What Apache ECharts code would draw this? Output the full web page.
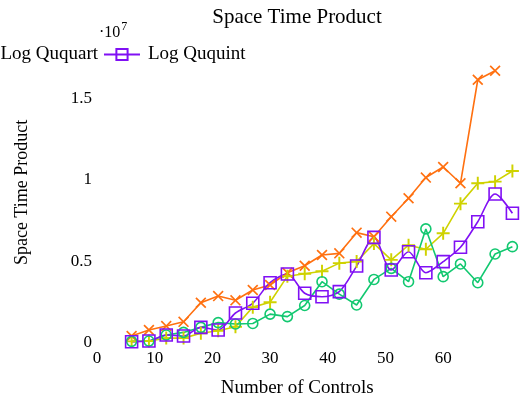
<!DOCTYPE html>
<html>
<head>
<meta charset="utf-8">
<script src="https://cdn.jsdelivr.net/npm/echarts@6/dist/echarts.min.js"></script>
<style>html,body{margin:0;padding:0;background:#fff;}#c{width:524px;height:403px;}</style>
</head>
<body>
<div id="c"></div>
<script>
// x: number of controls
const controls = [6,9,12,15,18,21,24,27,30,33,36,39,42,45,48,51,54,57,60,63,66,69,72];
// values in millions (1e6)
const logQubit   = [0.43,0.8,1.04,1.3,2.47,2.88,2.62,3.25,3.56,4.31,4.74,5.4,5.5,6.77,6.52,7.75,8.88,10.15,10.8,9.8,16.15,16.7];
const logQutrit  = [0.1,0.12,0.3,0.3,0.6,0.75,1.0,2.2,2.5,4.1,4.25,4.4,4.9,5.0,6.1,5.1,6.0,5.75,6.73,8.55,9.8,9.9,10.55];
const logQuquart = [0.1,0.12,0.49,0.65,0.96,1.25,1.17,1.2,1.77,1.62,2.3,3.76,3.0,2.33,3.9,4.58,3.76,7.0,4.07,4.85,3.7,5.46,5.91];
const logQuquint = [0.08,0.12,0.49,0.43,0.96,0.8,1.84,2.44,3.7,4.23,3.05,2.84,3.15,4.72,6.48,4.48,5.6,4.31,4.99,5.87,7.44,9.14,7.96];
const seriesNames = ['Log Qubit','Log Qutrit','Log Ququart','Log Ququint'];
const xTickLabels = [0,10,20,30,40,50,60];
const yTickValues = [0,5,10,15];
const yTickLabels = ['0','0.5','1','1.5'];

const pair = arr => arr.map((v,i)=>[controls[i], v]);
const FONT = '"Liberation Serif","DejaVu Serif",serif';
const cOrange = '#ff7010', cYellow = '#cfd200', cGreen = '#12c870', cPurple = '#8010f4';
const plusPath = 'path://M4.25,0H5.75V4.25H10V5.75H5.75V10H4.25V5.75H0V4.25H4.25Z';
const crossPath = 'path://M1.06,0L5,3.94L8.94,0L10,1.06L6.06,5L10,8.94L8.94,10L5,6.06L1.06,10L0,8.94L3.94,5L0,1.06Z';

const chart = echarts.init(document.getElementById('c'));
chart.setOption({
  animation: false,
  backgroundColor: '#fff',
  title: {
    text: 'Space Time Product', left: 292, top: 2, textAlign: 'center',
    textStyle: {fontFamily: FONT, fontSize: 21, fontWeight: 'normal', color: '#000'}
  },
  legend: {
    left: -309, top: 40, width: 900, orient: 'horizontal',
    itemWidth: 36, itemHeight: 14, itemGap: 5,
    textStyle: {fontFamily: FONT, fontSize: 19, color: '#000', padding: [0,0,0,3]},
    data: seriesNames
  },
  grid: {left: 97, right: 11.6, top: 65.9, bottom: 60, containLabel: false},
  xAxis: {
    type: 'value', min: 0, max: 72, interval: 10,
    axisLine: {show: false}, axisTick: {show: false}, splitLine: {show: false},
    axisLabel: {
      margin: 7, fontFamily: FONT, fontSize: 17, color: '#000',
      formatter: v => xTickLabels.includes(v) ? String(v) : ''
    },
    name: 'Number of Controls', nameLocation: 'middle', nameGap: 36,
    nameTextStyle: {fontFamily: FONT, fontSize: 19, color: '#000', padding: [0,15,0,0]}
  },
  yAxis: {
    type: 'value', min: 0, max: 17, interval: 5,
    axisLine: {show: false}, axisTick: {show: false}, splitLine: {show: false},
    axisLabel: {
      margin: 5, fontFamily: FONT, fontSize: 17, color: '#000',
      formatter: v => { const i = yTickValues.indexOf(v); return i >= 0 ? yTickLabels[i] : ''; }
    },
    name: 'Space Time Product', nameLocation: 'middle', nameGap: 66, nameRotate: 90,
    nameTextStyle: {fontFamily: FONT, fontSize: 18, color: '#000', padding: [0,0,0,24]}
  },
  graphic: [{
    type: 'text', left: 99, top: 21,
    style: {
      text: '·10{s|7}', fontFamily: FONT, fontSize: 16, fill: '#000',
      rich: {s: {fontFamily: FONT, fontSize: 12, verticalAlign: 'top', padding: [0,0,12,1]}}
    }
  }],
  series: [
    {name: seriesNames[0], type: 'line', data: pair(logQubit), symbol: crossPath, symbolSize: 11,
     itemStyle: {color: cOrange}, lineStyle: {color: cOrange, width: 1.6}},
    {name: seriesNames[1], type: 'line', data: pair(logQutrit), symbol: plusPath, symbolSize: 13,
     itemStyle: {color: cYellow}, lineStyle: {color: cYellow, width: 1.6}},
    {name: seriesNames[2], type: 'line', data: pair(logQuquart), symbol: 'circle', symbolSize: 10,
     itemStyle: {color: 'rgba(0,0,0,0)', borderColor: cGreen, borderWidth: 1.6}, lineStyle: {color: cGreen, width: 1.6}},
    {name: seriesNames[3], type: 'line', data: pair(logQuquint), symbol: 'rect', symbolSize: 12, smooth: 0.3,
     itemStyle: {color: 'rgba(0,0,0,0)', borderColor: cPurple, borderWidth: 1.6}, lineStyle: {color: cPurple, width: 1.6}}
  ]
});
</script>
</body>
</html>
